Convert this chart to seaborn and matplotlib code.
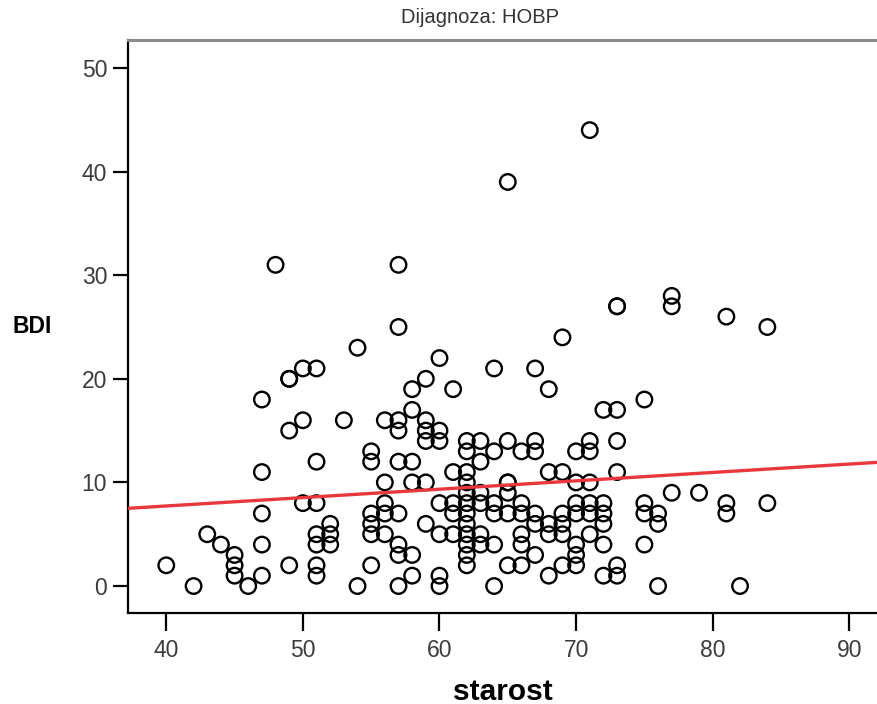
import numpy as np
import pandas as pd
import matplotlib
matplotlib.use("Agg")
import matplotlib.pyplot as plt
import seaborn as sns

# Age (starost) and BDI score for each patient in the HOBP group
age_groups = [40, 42, 43, 44, 45, 46, 47, 48, 49, 50, 51, 52, 53, 54, 55, 56, 57,
              58, 59, 60, 61, 62, 63, 64, 65, 66, 67, 68, 69, 70, 71, 72, 73, 75,
              76, 77, 79, 81, 82, 84]
bdi_by_age = [
    [2], [0], [5], [4], [3, 2, 1], [0], [18, 11, 7, 4, 1], [31],
    [20, 20, 15, 2], [21, 16, 8], [21, 12, 8, 5, 4, 2, 1], [6, 5, 4], [16],
    [23, 0], [13, 12, 7, 6, 5, 2], [16, 10, 8, 7, 5],
    [31, 25, 16, 15, 12, 7, 4, 3, 0], [19, 17, 12, 10, 3, 1],
    [20, 16, 15, 14, 10, 6], [22, 15, 14, 8, 5, 1, 0], [19, 11, 8, 7, 5],
    [14, 13, 11, 10, 9, 8, 7, 6, 5, 4, 3, 2], [14, 12, 9, 8, 5, 4],
    [21, 13, 8, 7, 4, 0], [39, 14, 10, 10, 9, 7, 2], [13, 8, 7, 5, 4, 2],
    [21, 14, 13, 7, 6, 3], [19, 11, 6, 5, 1], [24, 11, 7, 6, 5, 2],
    [13, 10, 8, 7, 4, 3, 2], [44, 14, 13, 10, 8, 7, 5], [17, 8, 7, 6, 4, 1],
    [27, 27, 17, 14, 11, 2, 1], [18, 8, 7, 4], [7, 6, 0], [28, 27, 9], [9],
    [26, 8, 7], [0], [25, 8],
]

# Linear fit line for the whole group (intercept, slope)
fit_intercept = 4.49
fit_slope = 0.0809

x_ticks = [40, 50, 60, 70, 80, 90]
y_ticks = [0, 10, 20, 30, 40, 50]

starost = [a for a, vals in zip(age_groups, bdi_by_age) for _ in vals]
bdi = [v for vals in bdi_by_age for v in vals]
df = pd.DataFrame({"starost": starost, "BDI": bdi})

sns.set_style("white")
plt.rcParams["font.family"] = ["Liberation Sans", "DejaVu Sans"]

fig = plt.figure(figsize=(8.78, 7.04), dpi=100)
ax = fig.add_axes([0.1458, 0.1293, 0.8542, 0.8139])
x_lim = (37.2, 92.1)
y_lim = (-2.6, 52.7)
ax.set_xlim(*x_lim)
ax.set_ylim(*y_lim)

sns.scatterplot(data=df, x="starost", y="BDI", ax=ax, marker="o", s=125,
                facecolor="none", edgecolor="black", linewidth=1.7, zorder=3)

fit_x = np.array(x_lim)
fit_df = pd.DataFrame({"starost": fit_x, "BDI": fit_intercept + fit_slope * fit_x})
sns.lineplot(data=fit_df, x="starost", y="BDI", ax=ax, color="#e8383d",
             linewidth=2.4, zorder=4)

ax.set_xlim(*x_lim)
ax.set_ylim(*y_lim)
ax.set_xticks(x_ticks)
ax.set_yticks(y_ticks)
ax.tick_params(axis="x", direction="out", length=13, width=1.6, color="black",
               labelsize=16.5, labelcolor="#3c3c3c", pad=6, bottom=True)
ax.tick_params(axis="y", direction="out", length=11, width=1.6, color="black",
               labelsize=16.5, labelcolor="#3c3c3c", pad=4, left=True)

ax.set_xlabel("starost", fontsize=21.5, fontweight="bold", color="black", labelpad=11)
ax.set_ylabel("BDI", fontsize=16.5, fontweight="bold", color="black",
              rotation=0, va="center", ha="center")
ax.yaxis.set_label_coords(-0.128, 0.5)

for side in ["left", "bottom"]:
    ax.spines[side].set_color("black")
    ax.spines[side].set_linewidth(1.6)
ax.spines["top"].set_color("#8a8a8a")
ax.spines["top"].set_linewidth(2.2)
ax.spines["right"].set_visible(False)

fig.text(0.5467, 0.975, "Dijagnoza: HOBP", ha="center", va="center",
         fontsize=14.5, color="#333333")

fig.savefig("out.png", dpi=100)
